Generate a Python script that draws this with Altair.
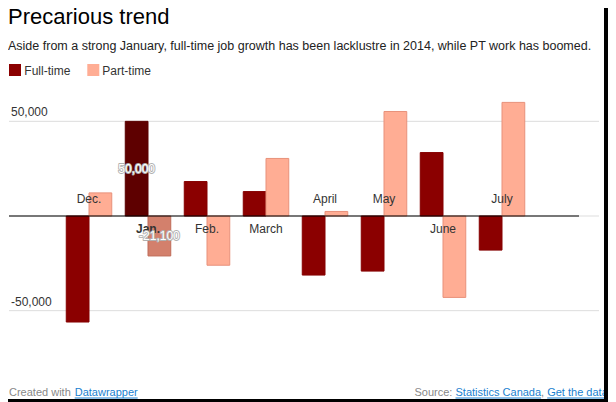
import altair as alt
import pandas as pd

# ---- data ----
months = ["Dec.", "Jan.", "Feb.", "March", "April", "May", "June", "July"]
full_time = [-56000, 50000, 18200, 12900, -31200, -29100, 33500, -18000]
part_time = [12200, -21100, -26000, 30400, 2400, 55200, -43000, 60000]
series_names = ["Full-time", "Part-time"]
tick_values = [50000, -50000]
tick_labels = ["50,000", "-50,000"]
grid_values = [50000, 0, -50000]
highlight_month = "Jan."

title = "Precarious trend"
subtitle = ("Aside from a strong January, full-time job growth has been lacklustre "
            "in 2014, while PT work has boomed.")

FONT = "Liberation Sans"
W, H = 590, 284
BAR = 0.3856  # width of one bar, in month steps

idx = list(range(len(months)))
long_df = pd.DataFrame({
    "month": months * 2,
    "idx": idx * 2,
    "series": [series_names[0]] * len(months) + [series_names[1]] * len(months),
    "value": full_time + part_time,
})
wide_df = pd.DataFrame({"month": months, "idx": idx, "ft": full_time, "pt": part_time})

x_scale = alt.Scale(domain=[-1.356, 8.644], nice=False, zero=False)
y_scale = alt.Scale(domain=[-75000, 75000], nice=False, zero=False)

shade_domain = ["Full-time", "Part-time", "Full-time hl", "Part-time hl"]
fill_range = ["#8b0000", "#ffad94", "#5e0000", "#d3806c"]
stroke_range = ["#850000", "#e8917a", "#5a0000", "#bf6b58"]

grid = alt.Chart(pd.DataFrame({"v": grid_values})).mark_rule(
    color="#dddddd", strokeWidth=1
).encode(
    y=alt.Y("v:Q", scale=y_scale, axis=None), x=alt.value(0), x2=alt.value(W)
)

bars = alt.Chart(long_df).transform_calculate(
    shade=f"datum.month == '{highlight_month}' ? datum.series + ' hl' : datum.series",
    x0=f"datum.series == '{series_names[0]}' ? datum.idx - {BAR} : datum.idx",
    x1=f"datum.series == '{series_names[0]}' ? datum.idx : datum.idx + {BAR}",
    zero="0",
).mark_rect(strokeWidth=1).encode(
    x=alt.X("x0:Q", scale=x_scale, axis=None),
    x2="x1:Q",
    y=alt.Y("value:Q", scale=y_scale, axis=None),
    y2="zero:Q",
    color=alt.Color("shade:N", scale=alt.Scale(domain=shade_domain, range=fill_range), legend=None),
    stroke=alt.Stroke("shade:N", scale=alt.Scale(domain=shade_domain, range=stroke_range), legend=None),
)

zero_line = alt.Chart(pd.DataFrame({"v": [0]})).mark_rule(color="#000000", strokeWidth=1).encode(
    y=alt.Y("v:Q", scale=y_scale, axis=None), x=alt.value(0), x2=alt.value(W - 20)
)

ticks = alt.Chart(pd.DataFrame({"v": tick_values, "lab": tick_labels})).mark_text(
    align="left", baseline="alphabetic", dy=-5, fontSize=12, font=FONT, color="#333333"
).encode(y=alt.Y("v:Q", scale=y_scale, axis=None), x=alt.value(2), text="lab:N")

lab_common = dict(align="center", baseline="alphabetic", fontSize=12, font=FONT, color="#333333")
lab_enc = dict(
    x=alt.X("idx:Q", scale=x_scale, axis=None),
    y=alt.Y("zero:Q", scale=y_scale, axis=None),
    text="month:N",
)
wide_base = alt.Chart(wide_df).transform_calculate(zero="0")
labels_above = wide_base.transform_filter("datum.ft < 0").mark_text(
    dy=-13, **lab_common
).encode(**lab_enc)
labels_below = wide_base.transform_filter(
    f"datum.ft >= 0 && datum.month != '{highlight_month}'"
).mark_text(dy=17, **lab_common).encode(**lab_enc)
labels_hl = wide_base.transform_filter(
    f"datum.month == '{highlight_month}'"
).mark_text(dy=17, fontWeight="bold", **lab_common).encode(**lab_enc)

val_base = alt.Chart(long_df).transform_filter(
    f"datum.month == '{highlight_month}'"
).transform_calculate(
    mid="datum.value / 2",
    xc=f"datum.series == '{series_names[0]}' ? datum.idx - {BAR / 2} : datum.idx + {BAR / 2}",
    lab="(datum.value < 0 ? '-' : '') + format(abs(datum.value), ',')",
)
val_enc = dict(
    x=alt.X("xc:Q", scale=x_scale, axis=None),
    y=alt.Y("mid:Q", scale=y_scale, axis=None),
    text="lab:N",
)
val_halo = val_base.mark_text(
    align="center", baseline="middle", fontSize=12, font=FONT,
    color="#b0b0b0", stroke="#b0b0b0", strokeWidth=1.8, strokeJoin="round"
).encode(**val_enc)
val_text = val_base.mark_text(
    align="center", baseline="middle", fontSize=12, font=FONT, color="#ffffff"
).encode(**val_enc)


def txt(s, x, y, size, color, weight="normal"):
    return alt.Chart(pd.DataFrame({"t": [s]})).mark_text(
        align="left", baseline="alphabetic", fontSize=size, font=FONT,
        color=color, fontWeight=weight
    ).encode(x=alt.value(x), y=alt.value(y), text="t:N")


def box(x1, x2, y1, y2, color):
    return alt.Chart(pd.DataFrame({"a": [0]})).mark_rect(color=color).encode(
        x=alt.value(x1), x2=alt.value(x2), y=alt.value(y1), y2=alt.value(y2)
    )


def uline(x1, x2, y, color):
    return alt.Chart(pd.DataFrame({"a": [0]})).mark_rule(color=color, strokeWidth=1).encode(
        x=alt.value(x1), x2=alt.value(x2), y=alt.value(y)
    )


LINK = "#1a7fd0"
GREY = "#888888"

header = [
    txt(title, -1, -50, 22, "#000000"),
    txt(subtitle, -1, -24, 12.5, "#222222"),
    box(0, 12, -10, 2, fill_range[0]),
    txt(series_names[0], 15.3, 1, 12, "#333333"),
    box(78.3, 90.3, -10, 2, fill_range[1]),
    txt(series_names[1], 93.3, 1, 12, "#333333"),
]

fy = 322
footer = [
    txt("Created with ", 0, fy, 11, GREY),
    txt("Datawrapper", 65.7, fy, 11, LINK),
    uline(65.7, 128.7, fy + 2, LINK),
    txt("Source: ", 405.5, fy, 11, GREY),
    txt("Statistics Canada", 446.5, fy, 11, LINK),
    uline(446.5, 532.1, fy + 2, LINK),
    txt(",", 532.1, fy, 11, GREY),
    txt("Get the data", 538.2, fy, 11, LINK),
    uline(538.2, 598.7, fy + 2, LINK),
]

edges = [
    box(595, 620, -80, 340, "#000000"),
    box(-10, 620, 325, 340, "#000000"),
]

chart = alt.layer(
    grid, bars, zero_line, ticks, labels_above, labels_below, labels_hl,
    val_halo, val_text, *header, *footer, *edges
).properties(
    width=W, height=H,
    padding={"left": 1, "top": 66, "right": 9, "bottom": 44},
    autosize=alt.AutoSizeParams(type="none"),
).configure_view(stroke=None)

chart.save("out.html", embed_options={"renderer": "svg", "actions": False})
